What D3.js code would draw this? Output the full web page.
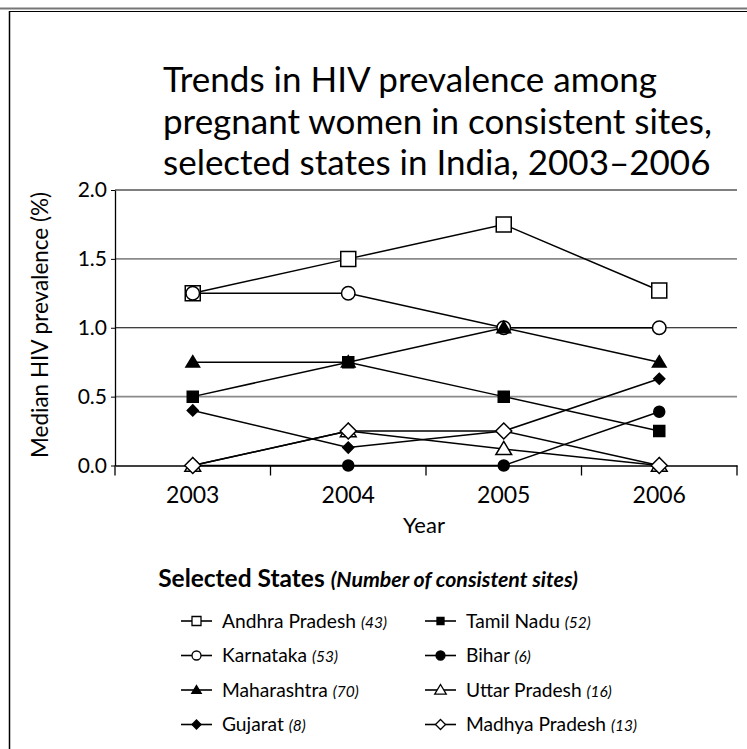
<!DOCTYPE html>
<html>
<head>
<meta charset="utf-8">
<script src="https://cdn.jsdelivr.net/npm/d3@7"></script>
<style>
html,body{margin:0;padding:0;background:#fff;}
svg{display:block;font-family:Lato,"Noto Sans",sans-serif;}
</style>
</head>
<body>
<svg id="chart" width="747" height="749"></svg>
<script>
// ---- data ----
const years = ["2003", "2004", "2005", "2006"];
const stateNames = ["Andhra Pradesh", "Karnataka", "Maharashtra", "Gujarat",
                    "Tamil Nadu", "Bihar", "Uttar Pradesh", "Madhya Pradesh"];
const siteCounts = [43, 53, 70, 8, 52, 6, 16, 13];
const andhraPradesh = [1.25, 1.50, 1.75, 1.27];
const karnataka     = [1.25, 1.25, 1.00, 1.00];
const maharashtra   = [0.75, 0.75, 1.00, 0.75];
const gujarat       = [0.40, 0.13, 0.25, 0.63];
const tamilNadu     = [0.50, 0.75, 0.50, 0.25];
const bihar         = [0.00, 0.00, 0.00, 0.39];
const uttarPradesh  = [0.00, 0.25, 0.12, 0.00];
const madhyaPradesh = [0.00, 0.25, 0.25, 0.00];
const yTickValues = [0, 0.5, 1.0, 1.5, 2.0];
const titleLines = ["Trends in HIV prevalence among",
                    "pregnant women in consistent sites,",
                    "selected states in India, 2003\u20132006"];
const yTitle = "Median HIV prevalence (%)";
const xTitle = "Year";
const legendTitle = "Selected States";
const legendSubtitle = "(Number of consistent sites)";

const seriesValues = [andhraPradesh, karnataka, maharashtra, gujarat,
                      tamilNadu, bihar, uttarPradesh, madhyaPradesh];

// ---- symbols (size = pixel extent) ----
const symSquare = {draw(c, s){const r=s/2; c.moveTo(-r,-r); c.lineTo(r,-r); c.lineTo(r,r); c.lineTo(-r,r); c.closePath();}};
const symCircle = {draw(c, s){const r=s/2; c.moveTo(r,0); c.arc(0,0,r,0,2*Math.PI); c.closePath();}};
const symTriangle = {draw(c, s){const r=s/2; c.moveTo(0,-r); c.lineTo(r*1.05,r*0.75); c.lineTo(-r*1.05,r*0.75); c.closePath();}};
const symDiamond = {draw(c, s){const r=s/2; c.moveTo(0,-r); c.lineTo(r,0); c.lineTo(0,r); c.lineTo(-r,0); c.closePath();}};

const styles = [
  {sym: symSquare,   fill: "#fff", size: 15, lsize: 9},
  {sym: symCircle,   fill: "#fff", size: 13.5, lsize: 9},
  {sym: symTriangle, fill: "#000", size: 13, lsize: 9},
  {sym: symDiamond,  fill: "#000", size: 11, lsize: 9},
  {sym: symSquare,   fill: "#000", size: 11, lsize: 7},
  {sym: symCircle,   fill: "#000", size: 11, lsize: 9},
  {sym: symTriangle, fill: "#fff", size: 15, lsize: 11},
  {sym: symDiamond,  fill: "#fff", size: 16, lsize: 10}
];

const svg = d3.select("#chart");

// frame
svg.append("line").attr("x1",0).attr("x2",747).attr("y1",8.5).attr("y2",8.5).attr("stroke","#777").attr("stroke-width",2);
svg.append("line").attr("x1",9).attr("x2",747).attr("y1",11.5).attr("y2",11.5).attr("stroke","#000").attr("stroke-width",1.2);
svg.append("line").attr("x1",9.5).attr("x2",9.5).attr("y1",11).attr("y2",749).attr("stroke","#000").attr("stroke-width",1.5);

// title (left aligned block)
svg.append("g").selectAll("text").data(titleLines).join("text")
  .attr("x", 163).attr("y", (d,i)=>92 + i*41.5)
  .attr("text-anchor","start").attr("font-size",35).attr("fill","#000")
  .text(d=>d);

// plot area
const pLeft = 115, pRight = 737, pTop = 190, pBottom = 465.5;
const x = d3.scaleBand().domain(years).range([pLeft, pRight]);
const y = d3.scaleLinear().domain([0, 2]).range([pBottom, pTop]);

// gridlines
const grid = svg.append("g");
grid.selectAll("line").data(yTickValues.filter(v=>v>0)).join("line")
  .attr("x1", pLeft).attr("x2", pRight)
  .attr("y1", d=>y(d)).attr("y2", d=>y(d))
  .attr("stroke", d=> (d===0.5||d===1.5) ? "#8a8a8a" : "#000")
  .attr("stroke-width", d=> (d===0.5||d===1.5) ? 1.6 : 1.1);

// y axis
const yAxis = svg.append("g").attr("transform",`translate(${pLeft},0)`)
  .call(d3.axisLeft(y).tickValues(yTickValues).tickFormat(d3.format(".1f")).tickSize(4).tickSizeOuter(0));
yAxis.select(".domain").attr("stroke","#000").attr("stroke-width",1.3);
yAxis.selectAll(".tick line").attr("stroke","#000");
yAxis.selectAll(".tick text").attr("font-size",21).attr("fill","#000").attr("x",-8).attr("font-family","Lato, sans-serif");

// x axis
const xAxis = svg.append("g").attr("transform",`translate(0,${pBottom})`)
  .call(d3.axisBottom(x).tickSize(0).tickPadding(21));
xAxis.select(".domain").attr("stroke","#000").attr("stroke-width",1.5);
xAxis.selectAll(".tick text").attr("font-size",23).attr("fill","#000").attr("font-family","Lato, sans-serif");
// category boundary ticks
const bounds = years.map(d=>x(d)).concat([x(years[years.length-1]) + x.bandwidth()]);
svg.append("g").selectAll("line").data(bounds).join("line")
  .attr("x1",d=>d).attr("x2",d=>d).attr("y1",pBottom).attr("y2",pBottom+10)
  .attr("stroke","#000").attr("stroke-width",1.3);

// axis titles
svg.append("text").attr("transform",`translate(48,325) rotate(-90)`)
  .attr("text-anchor","middle").attr("font-size",22.5).attr("fill","#000").text(yTitle);
svg.append("text").attr("x",(pLeft+pRight)/2 - 2).attr("y",533)
  .attr("text-anchor","middle").attr("font-size",22).attr("fill","#000").text(xTitle);

// series
const lineGen = d3.line().x((d,i)=>x(years[i]) + x.bandwidth()/2).y(d=>y(d));
const sg = svg.append("g");
seriesValues.forEach((vals, k)=>{
  sg.append("path").attr("d", lineGen(vals)).attr("fill","none").attr("stroke","#000").attr("stroke-width",1.5);
});
seriesValues.forEach((vals, k)=>{
  const st = styles[k];
  sg.append("g").selectAll("path").data(vals).join("path")
    .attr("transform",(d,i)=>`translate(${x(years[i]) + x.bandwidth()/2},${y(d)})`)
    .attr("d", d3.symbol().type(st.sym).size(st.size))
    .attr("fill", st.fill).attr("stroke","#000").attr("stroke-width",1.5);
});

// legend
const lt = svg.append("text").attr("x", 368).attr("y", 587).attr("text-anchor","middle").attr("fill","#000");
lt.append("tspan").attr("font-weight","bold").attr("font-size",24.5).text(legendTitle + " ");
lt.append("tspan").attr("font-weight","bold").attr("font-style","italic").attr("font-size",21.3).text(legendSubtitle);

const lg = svg.append("g");
stateNames.forEach((name, k)=>{
  const col = Math.floor(k/4), row = k%4;
  const lx = col===0 ? 181 : 425;
  const ly = 621 + row*34.5;
  const st = styles[k];
  const item = lg.append("g").attr("transform",`translate(${lx},${ly})`);
  item.append("line").attr("x1",0).attr("x2",31).attr("y1",0).attr("y2",0).attr("stroke","#000").attr("stroke-width",1.6);
  item.append("path").attr("transform","translate(15.5,0)")
    .attr("d", d3.symbol().type(st.sym).size(st.lsize))
    .attr("fill", st.fill).attr("stroke","#000").attr("stroke-width",1.3);
  const t = item.append("text").attr("x",41).attr("y",6.8).attr("fill","#000");
  t.append("tspan").attr("font-size",19.2).text(name + " ");
  t.append("tspan").attr("font-size",15.5).attr("font-style","italic").text("(" + siteCounts[k] + ")");
});
</script>
</body>
</html>
